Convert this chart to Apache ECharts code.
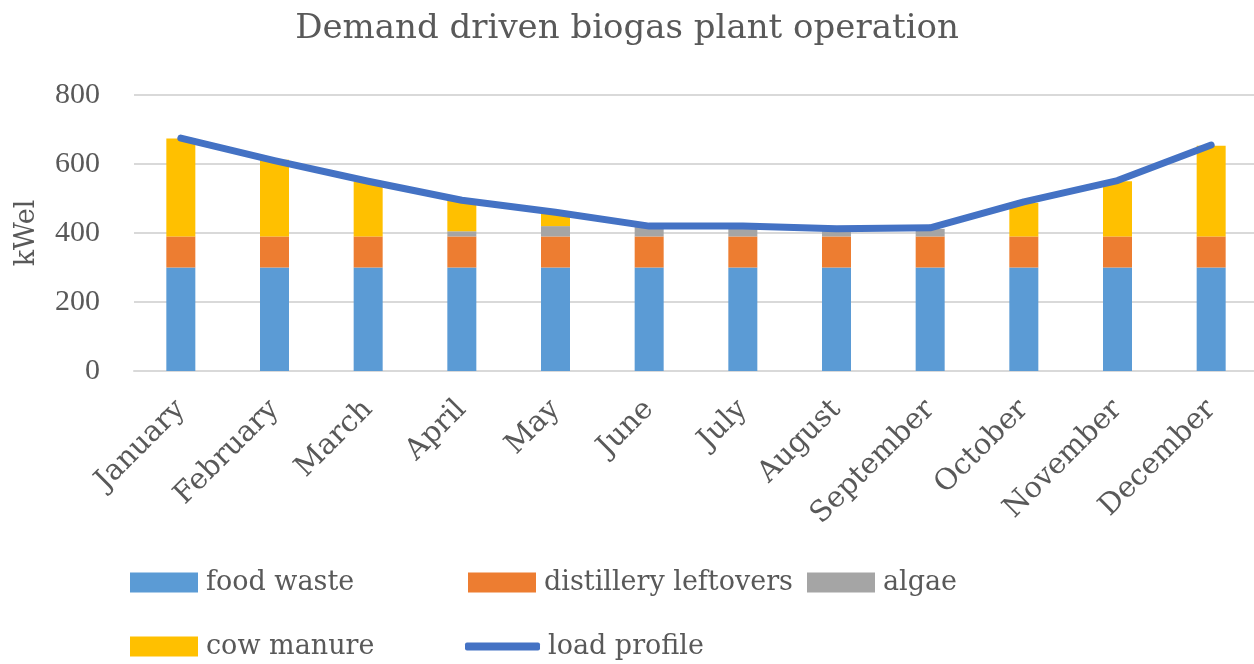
<!DOCTYPE html>
<html>
<head>
<meta charset="utf-8">
<title>Demand driven biogas plant operation</title>
<script src="https://cdn.jsdelivr.net/npm/echarts@6/dist/echarts.min.js"></script>
<style>
  html, body { margin: 0; padding: 0; background: #fff; }
  #chart { width: 1254px; height: 664px; }
</style>
</head>
<body>
<div id="chart"></div>
<script>
// values (kWel)
var months = ['January', 'February', 'March', 'April', 'May', 'June', 'July',
  'August', 'September', 'October', 'November', 'December'];
var foodWaste = [300, 300, 300, 300, 300, 300, 300, 300, 300, 300, 300, 300];
var distillery = [90, 90, 90, 90, 90, 90, 90, 90, 90, 90, 90, 90];
var algae = [0, 0, 0, 15, 30, 28, 25, 15, 22, 0, 0, 0];
var cowManure = [284, 222, 159, 88, 35, 0, 0, 0, 0, 98, 160, 263];
var loadProfile = [675, 610, 550, 495, 460, 420, 420, 412, 415, 490, 552, 655];
var yTicks = [0, 200, 400, 600, 800];

var SERIF = '"DejaVu Serif", "Liberation Serif", serif';
var DIGITS = '"Liberation Serif", serif';
var TEXT = '#595959';

var chart = echarts.init(document.getElementById('chart'));

function legendAt(name, left, top, w, h, icon) {
  return {
    data: [name],
    left: left,
    top: top,
    itemWidth: w,
    itemHeight: h,
    itemGap: 0,
    icon: icon || 'rect',
    padding: 0,
    textStyle: { fontFamily: SERIF, fontSize: 27, color: TEXT, padding: [0, 0, 0, 3] }
  };
}

function barSeries(name, data, color) {
  return {
    name: name,
    type: 'bar',
    stack: 'plant',
    barWidth: 29,
    itemStyle: { color: color },
    emphasis: { disabled: true },
    data: data
  };
}

var option = {
  backgroundColor: '#fff',
  animation: false,
  title: {
    text: 'Demand driven biogas plant operation',
    left: 'center',
    top: 7,
    textStyle: { fontFamily: SERIF, fontSize: 34, fontWeight: 'normal', color: TEXT }
  },
  legend: [
    legendAt('food waste', 130, 569, 68, 20),
    legendAt('distillery leftovers', 468, 569, 68, 20),
    legendAt('algae', 807, 569, 68, 20),
    legendAt('cow manure', 130, 633, 68, 20),
    legendAt('load profile', 465, 633, 75, 8, 'roundRect')
  ],
  grid: { left: 134, right: -4, top: 95, bottom: 293, outerBoundsMode: 'none' },
  xAxis: {
    type: 'category',
    data: months,
    axisTick: { show: false },
    axisLine: { lineStyle: { color: '#D9D9D9', width: 2 } },
    axisLabel: {
      rotate: 45,
      interval: 0,
      margin: 34,
      fontFamily: SERIF,
      fontSize: 29,
      color: TEXT
    }
  },
  yAxis: {
    type: 'value',
    min: yTicks[0],
    max: yTicks[yTicks.length - 1],
    interval: 200,
    name: 'kWel',
    nameLocation: 'middle',
    nameGap: 94,
    nameRotate: 90,
    nameTextStyle: { fontFamily: SERIF, fontSize: 27, color: TEXT },
    axisLine: { show: false },
    axisTick: { show: false },
    axisLabel: { margin: 34, fontFamily: DIGITS, fontSize: 30, color: TEXT },
    splitLine: { lineStyle: { color: '#D9D9D9', width: 2 } }
  },
  series: [
    barSeries('food waste', foodWaste, '#5B9BD5'),
    barSeries('distillery leftovers', distillery, '#ED7D31'),
    barSeries('algae', algae, '#A5A5A5'),
    barSeries('cow manure', cowManure, '#FFC000'),
    {
      name: 'load profile',
      type: 'line',
      data: loadProfile,
      symbol: 'none',
      z: 5,
      itemStyle: { color: '#4472C4' },
      lineStyle: { color: '#4472C4', width: 7, cap: 'round', join: 'round' },
      emphasis: { disabled: true }
    }
  ]
};

chart.setOption(option);
</script>
</body>
</html>
